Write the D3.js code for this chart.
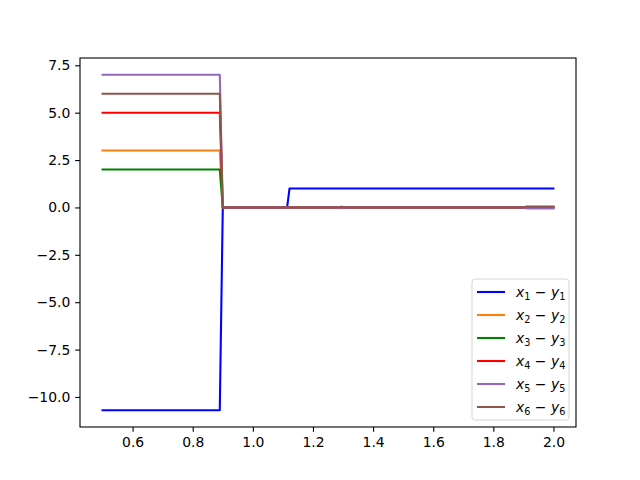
<!DOCTYPE html>
<html>
<head>
<meta charset="utf-8">
<script src="https://cdn.jsdelivr.net/npm/d3@7"></script>
<style>
  body { margin: 0; background: #fff; }
  text { font-family: "DejaVu Sans", sans-serif; }
</style>
</head>
<body>
<div id="wrapper"></div>
<script>
// corner points, one list per series
const series1 = [[0.5, -10.7], [0.89, -10.7], [0.9, 0], [1.114, 0], [1.122, 1], [2.0, 1]];
const series2 = [[0.5, 3], [0.89, 3], [0.9, 0], [1.29, 0], [1.295, 0.05], [1.3, 0], [2.0, 0]];
const series3 = [[0.5, 2], [0.89, 2], [0.9, 0], [2.0, 0]];
const series4 = [[0.5, 5], [0.89, 5], [0.9, 0], [2.0, 0]];
const series5 = [[0.5, 7], [0.89, 7], [0.9, 0], [1.29, 0], [1.295, -0.05], [1.3, 0], [1.905, 0], [1.91, -0.05], [2.0, -0.05]];
const series6 = [[0.5, 6], [0.89, 6], [0.9, 0], [1.29, 0], [1.295, 0.03], [1.3, 0], [1.905, 0], [1.91, 0.05], [2.0, 0.05]];

const allSeries = [series1, series2, series3, series4, series5, series6];
const colors = ["#0000ff", "#ff7f0e", "#008000", "#ff0000", "#9467bd", "#8c564b"];
const labelIndex = ["1", "2", "3", "4", "5", "6"];

const xTicks = [0.6, 0.8, 1.0, 1.2, 1.4, 1.6, 1.8, 2.0];
const yTicks = [7.5, 5.0, 2.5, 0.0, -2.5, -5.0, -7.5, -10.0];

const xAccessor = (d) => d[0];
const yAccessor = (d) => d[1];

let dimensions = {
  width: 640,
  height: 480,
  margin: { top: 58, right: 64, bottom: 53, left: 80 },
};
dimensions.boundsWidth = dimensions.width - dimensions.margin.left - dimensions.margin.right;
dimensions.boundsHeight = dimensions.height - dimensions.margin.top - dimensions.margin.bottom;

const svg = d3.select("#wrapper").append("svg")
  .attr("width", dimensions.width)
  .attr("height", dimensions.height);

const bounds = svg.append("g")
  .attr("transform", `translate(${dimensions.margin.left},${dimensions.margin.top})`);

// matplotlib style 5% padding on the data range
const flat = allSeries.flat();
const [x0, x1] = d3.extent(flat, xAccessor);
const [y0, y1] = d3.extent(flat, yAccessor);
const xPad = (x1 - x0) * 0.05;
const yPad = (y1 - y0) * 0.05;

const xScale = d3.scaleLinear()
  .domain([x0 - xPad, x1 + xPad])
  .range([0, dimensions.boundsWidth]);

const yScale = d3.scaleLinear()
  .domain([y0 - yPad, y1 + yPad])
  .range([dimensions.boundsHeight, 0]);

const lineGenerator = d3.line()
  .x((d) => xScale(xAccessor(d)))
  .y((d) => yScale(yAccessor(d)));

bounds.selectAll(".series")
  .data(allSeries)
  .join("path")
  .attr("class", "series")
  .attr("d", lineGenerator)
  .attr("fill", "none")
  .attr("stroke", (d, i) => colors[i])
  .attr("stroke-width", 2.08)
  .attr("stroke-linejoin", "round")
  .attr("stroke-linecap", "square");

// axes
const xAxis = bounds.append("g")
  .attr("transform", `translate(0,${dimensions.boundsHeight})`)
  .call(d3.axisBottom(xScale).tickValues(xTicks).tickFormat(d3.format(".1f")).tickSize(4.86).tickPadding(4.86));

const yAxis = bounds.append("g")
  .call(d3.axisLeft(yScale).tickValues(yTicks).tickFormat(d3.format(".1f")).tickSize(4.86).tickPadding(4.86));

[xAxis, yAxis].forEach((ax) => {
  ax.select(".domain").remove();
  ax.selectAll(".tick line").attr("stroke", "#000").attr("stroke-width", 1.1);
  ax.selectAll(".tick text")
    .attr("fill", "#000")
    .style("font-size", "13.9px")
    .style("font-family", "'DejaVu Sans', sans-serif");
});

// frame
bounds.append("rect")
  .attr("x", 0)
  .attr("y", 0)
  .attr("width", dimensions.boundsWidth)
  .attr("height", dimensions.boundsHeight)
  .attr("fill", "none")
  .attr("stroke", "#000")
  .attr("stroke-width", 1.1);

// legend
const legend = svg.append("g").attr("transform", "translate(472,279)");
legend.append("rect")
  .attr("width", 97)
  .attr("height", 141)
  .attr("rx", 3)
  .attr("fill", "#fff")
  .attr("fill-opacity", 0.8)
  .attr("stroke", "#d5d5d5")
  .attr("stroke-width", 1);

const rows = legend.selectAll(".row")
  .data(labelIndex)
  .join("g")
  .attr("class", "row")
  .attr("transform", (d, i) => `translate(0,${13 + i * 23})`);

rows.append("line")
  .attr("x1", 5)
  .attr("x2", 33)
  .attr("stroke", (d, i) => colors[i])
  .attr("stroke-width", 2.08);

const label = rows.append("text")
  .attr("x", 44)
  .attr("y", 5)
  .style("font-size", "13.9px")
  .attr("fill", "#000");
label.append("tspan").attr("font-style", "italic").text("x");
label.append("tspan").attr("dy", 3).style("font-size", "9.7px").text((d) => d);
label.append("tspan").attr("dy", -3).text(" \u2212 ");
label.append("tspan").attr("font-style", "italic").text("y");
label.append("tspan").attr("dy", 3).style("font-size", "9.7px").text((d) => d);
</script>
</body>
</html>
